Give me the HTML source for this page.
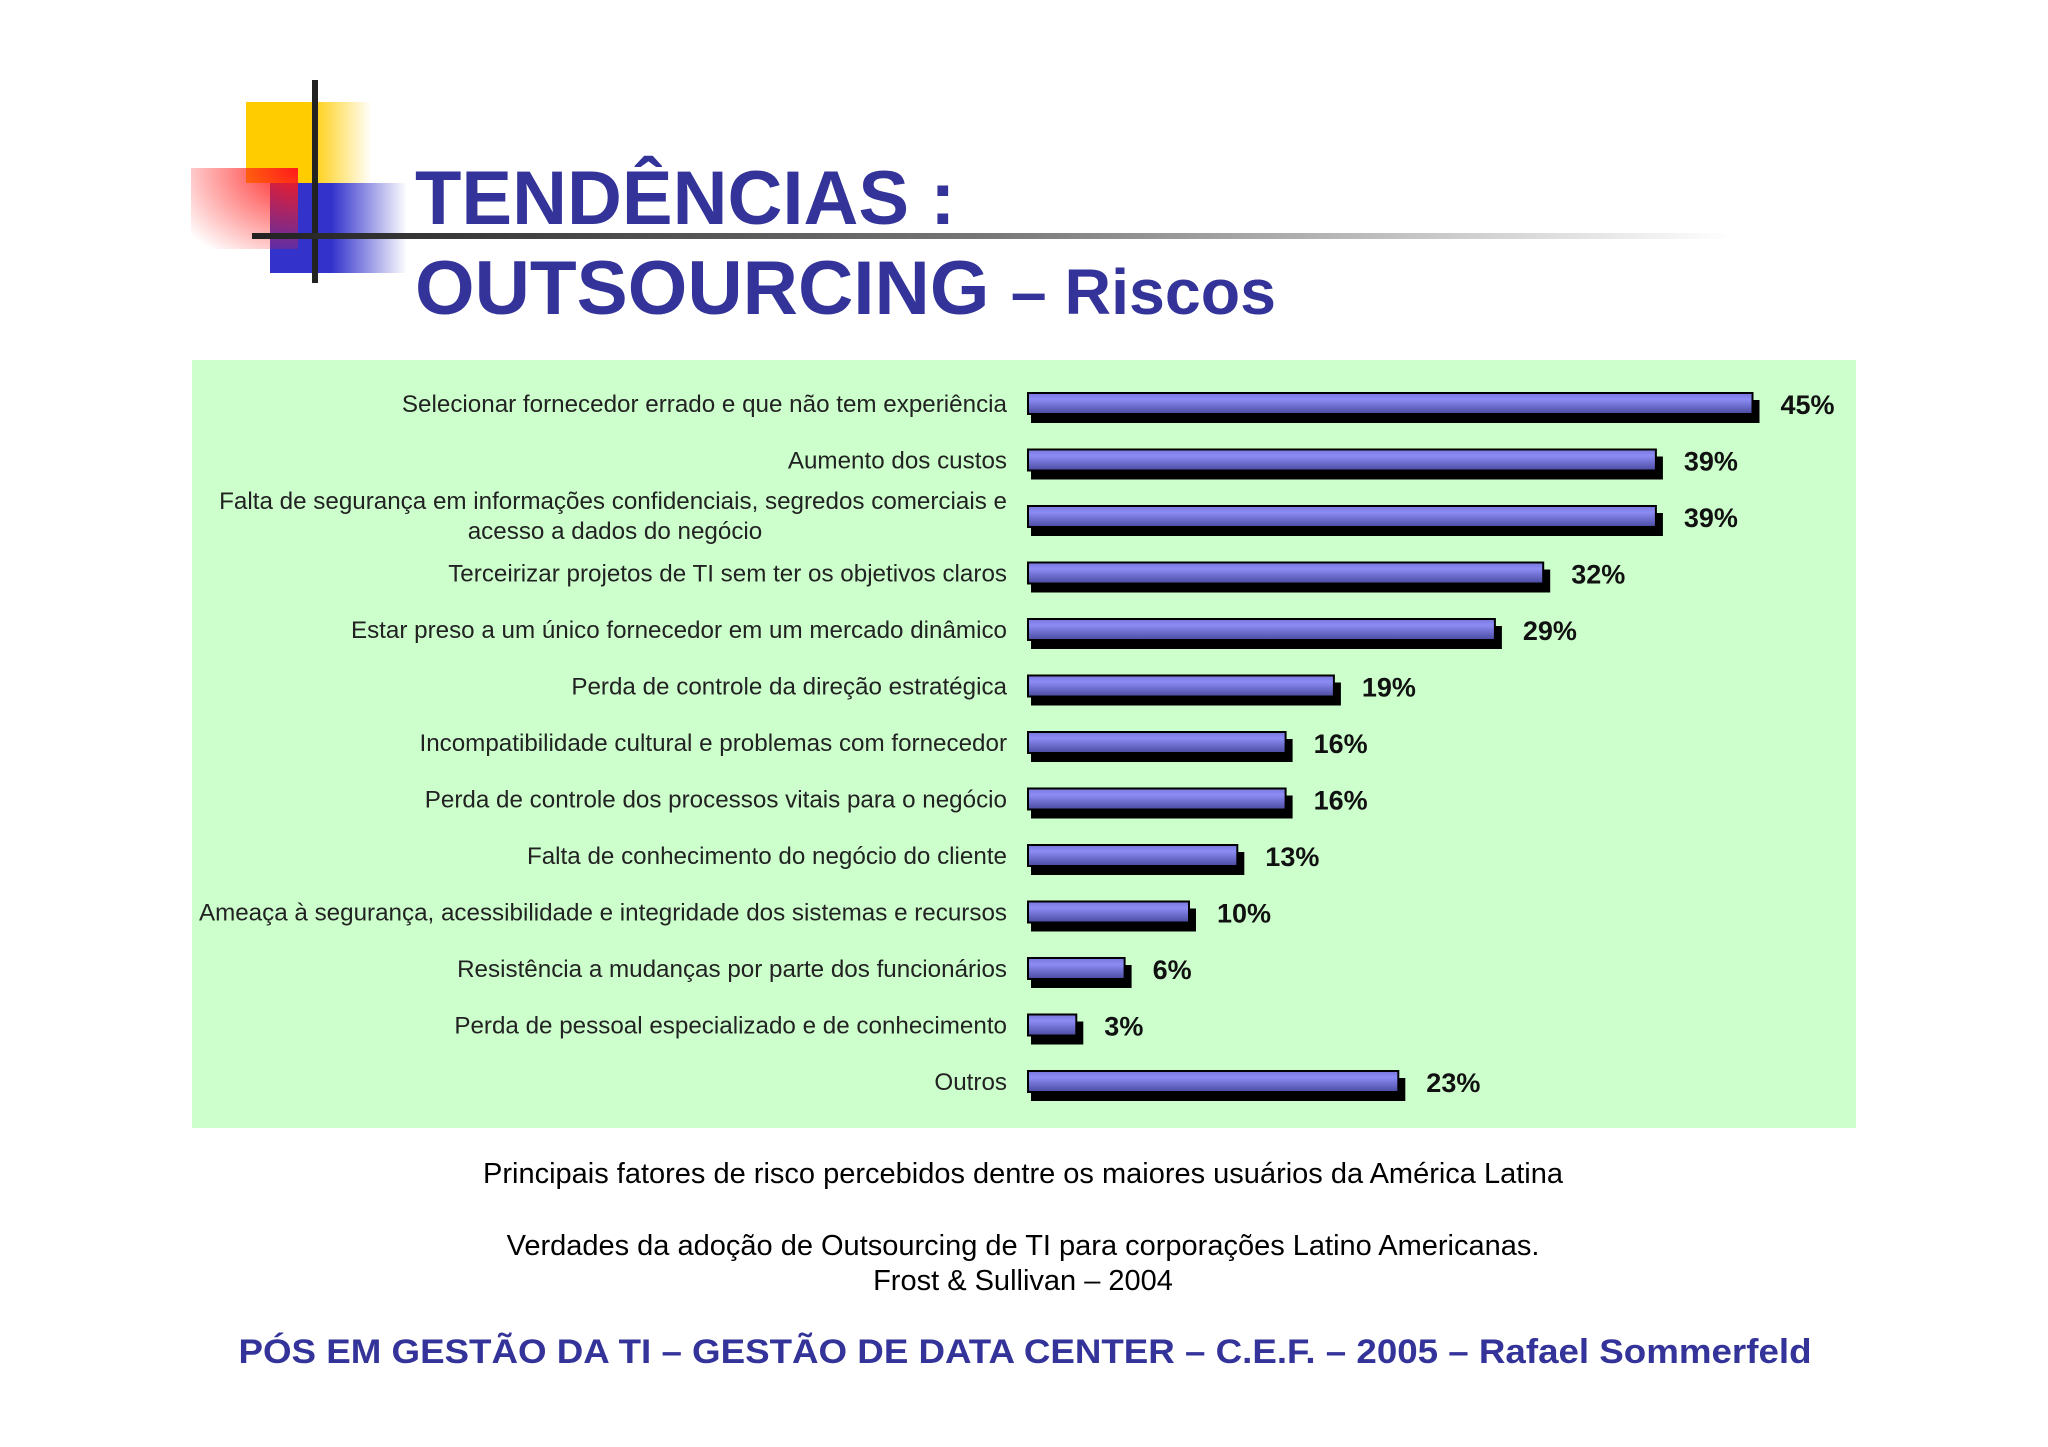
<!DOCTYPE html>
<html><head><meta charset="utf-8"><style>
html,body{margin:0;padding:0;background:#fff;}
svg{display:block;}
text{font-family:"Liberation Sans",sans-serif;}
</style></head><body>
<svg id="chart" width="2048" height="1447" viewBox="0 0 2048 1447" xmlns="http://www.w3.org/2000/svg">
<defs>
<linearGradient id="yel" x1="0" x2="1" y1="0" y2="0"><stop offset="0" stop-color="#ffcc00"/><stop offset="0.5" stop-color="#ffcc00"/><stop offset="1" stop-color="#ffcc00" stop-opacity="0"/></linearGradient>
<linearGradient id="blu" x1="0" x2="1" y1="0" y2="0"><stop offset="0" stop-color="#3333cc"/><stop offset="0.45" stop-color="#3333cc"/><stop offset="1" stop-color="#3333cc" stop-opacity="0"/></linearGradient>
<radialGradient id="red" cx="1" cy="0" r="1.3"><stop offset="0" stop-color="#ff1a1a"/><stop offset="1" stop-color="#ff1a1a" stop-opacity="0"/></radialGradient>
<linearGradient id="hl" x1="0" x2="1" y1="0" y2="0"><stop offset="0" stop-color="#222"/><stop offset="0.5" stop-color="#777"/><stop offset="1" stop-color="#fff"/></linearGradient>
<linearGradient id="barg" x1="0" x2="0" y1="0" y2="1"><stop offset="0" stop-color="#7777dd"/><stop offset="0.3" stop-color="#8c8cf5"/><stop offset="1" stop-color="#4a4aa0"/></linearGradient>
</defs>
<g>
<rect x="246" y="102" width="126" height="81" fill="url(#yel)"/>
<rect x="270" y="183" width="137" height="90" fill="url(#blu)"/>
<rect x="191" y="168" width="107" height="81" fill="url(#red)"/>
<rect x="312" y="80" width="6" height="203" fill="#222"/>
<rect x="252" y="233" width="1480" height="6" fill="url(#hl)"/>
</g>
<text x="415" y="224" font-size="76" font-weight="bold" fill="#333399">TENDÊNCIAS :</text>
<text x="415" y="314" font-size="76" font-weight="bold" fill="#333399" textLength="861" lengthAdjust="spacingAndGlyphs">OUTSOURCING <tspan font-size="64">– Riscos</tspan></text>
<rect x="192" y="360" width="1664" height="768" fill="#ccffcc"/>
<g id="bars"></g>
<text x="1023" y="1183" font-size="29" text-anchor="middle" fill="#000">Principais fatores de risco percebidos dentre os maiores usuários da América Latina</text>
<text x="1023" y="1255" font-size="29" text-anchor="middle" fill="#000">Verdades da adoção de Outsourcing de TI para corporações Latino Americanas.</text>
<text x="1023" y="1290" font-size="29" text-anchor="middle" fill="#000">Frost &amp; Sullivan – 2004</text>
<text x="1025" y="1363" font-size="34" font-weight="bold" text-anchor="middle" fill="#333399" textLength="1573" lengthAdjust="spacingAndGlyphs">PÓS EM GESTÃO DA TI – GESTÃO DE DATA CENTER – C.E.F. – 2005 – Rafael Sommerfeld</text>
</svg>
<script>
const categories = [
 ["Selecionar fornecedor errado e que não tem experiência"],
 ["Aumento dos custos"],
 ["Falta de segurança em informações confidenciais, segredos comerciais e","acesso a dados do negócio"],
 ["Terceirizar projetos de TI  sem ter os objetivos claros"],
 ["Estar preso a um único fornecedor em um mercado dinâmico"],
 ["Perda de controle da direção estratégica"],
 ["Incompatibilidade cultural e problemas com fornecedor"],
 ["Perda de controle dos processos vitais para o negócio"],
 ["Falta de conhecimento do negócio do cliente"],
 ["Ameaça à segurança, acessibilidade e integridade dos sistemas e recursos"],
 ["Resistência a mudanças por parte dos funcionários"],
 ["Perda de pessoal especializado e de conhecimento"],
 ["Outros"]
];
const values = [45,39,39,32,29,19,16,16,13,10,6,3,23];
const valueLabels = ["45%","39%","39%","32%","29%","19%","16%","16%","13%","10%","6%","3%","23%"];

const NS="http://www.w3.org/2000/svg";
const g=document.getElementById('bars');
const x0=1027, pxPer=16.1, y0=392, step=56.5, bh=23, labelX=1007;
function xScale(v){return x0+v*pxPer;}
function yScale(i){return y0+i*step;}
function mk(tag,attrs){const e=document.createElementNS(NS,tag);for(const k in attrs)e.setAttribute(k,attrs[k]);return e;}
values.forEach((v,i)=>{
  const y=yScale(i), w=xScale(v)-x0;
  const sh=mk('rect',{x:x0+4,y:y+8,width:w+4,height:bh,fill:'#000'});
  
  
  g.appendChild(sh);
  const b=mk('rect',{x:x0+1,y:y+1,width:w,height:bh-2,fill:'url(#barg)',stroke:'#000','stroke-width':2});
  
  
  g.appendChild(b);
  const t=mk('text',{x:xScale(v)+29,y:y+22,'font-size':27,'font-weight':'bold',fill:'#111'});
  
  
  t.textContent=valueLabels[i];
  g.appendChild(t);
  const lines=categories[i];
  if(lines.length===1){
    const l=mk('text',{x:labelX,y:y+20,'font-size':24.2,fill:'#222','text-anchor':'end'});
    
    
    l.textContent=lines[0];
    g.appendChild(l);
  } else {
    const l1=mk('text',{x:labelX,y:y+4,'font-size':24.2,fill:'#222','text-anchor':'end'});
    
    
    l1.textContent=lines[0];
    g.appendChild(l1);
    const l2=mk('text',{x:615,y:y+34,'font-size':24.2,fill:'#222','text-anchor':'middle'});
    
    
    l2.textContent=lines[1];
    g.appendChild(l2);
  }
});
</script>
</body></html>
